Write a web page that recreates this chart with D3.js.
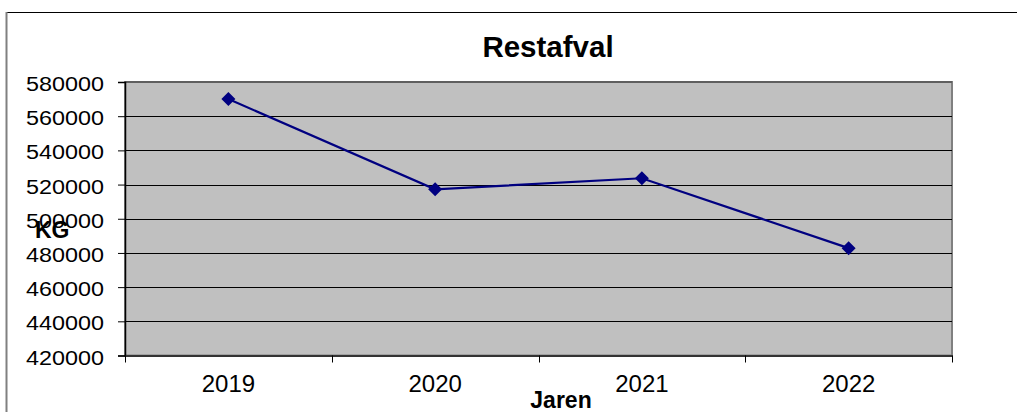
<!DOCTYPE html>
<html><head><meta charset="utf-8">
<script src="https://cdn.jsdelivr.net/npm/d3@7"></script>
<style>body{margin:0;background:#fff}svg{display:block}text{font-family:"Liberation Sans",Arial,sans-serif}</style>
</head><body>
<svg id="c" width="1017" height="412"></svg>
<script>
const categories = ["2019","2020","2021","2022"];
const values = [570000, 517200, 523700, 482800];
const yTicks = [420000,440000,460000,480000,500000,520000,540000,560000,580000];
const title = "Restafval";
const xTitle = "Jaren";
const yTitle = "KG";

const svg = d3.select("#c");
const m = {l:125, r:952, t:82, b:355.5};
const x = d3.scaleBand().domain(categories).range([m.l, m.r]);
const y = d3.scaleLinear().domain([420000,580000]).range([m.b, m.t]);

// outer frame
svg.append("line").attr("x1",6).attr("x2",1017).attr("y1",12.5).attr("y2",12.5).attr("stroke","#000").attr("stroke-width",1);
svg.append("line").attr("x1",6.5).attr("x2",6.5).attr("y1",12).attr("y2",412).attr("stroke","#808080").attr("stroke-width",2);

// plot area
svg.append("rect").attr("x",m.l).attr("y",m.t).attr("width",m.r-m.l).attr("height",m.b-m.t).attr("fill","#c0c0c0").attr("stroke","#808080").attr("stroke-width",2);

// gridlines
svg.append("g").selectAll("line").data(yTicks.slice(1,-1)).join("line")
  .attr("x1",m.l).attr("x2",m.r).attr("y1",d=>Math.round(y(d))+0.5).attr("y2",d=>Math.round(y(d))+0.5)
  .attr("stroke","#000").attr("stroke-width",1);
svg.append("line").attr("x1",m.l).attr("x2",m.r).attr("y1",m.t).attr("y2",m.t).attr("stroke","#555").attr("stroke-width",1.5);

// y axis
const ya = svg.append("g").attr("transform",`translate(${m.l},0)`)
  .call(d3.axisLeft(y).tickValues(yTicks).tickSize(7).tickPadding(21).tickFormat(d3.format("d")));
ya.select(".domain").attr("stroke","#000").attr("stroke-width",1.5);
ya.selectAll(".tick line").attr("stroke","#000");
ya.selectAll("text").attr("font-size",20.5).attr("fill","#000").attr("font-family","Liberation Sans, Arial, sans-serif")
  .attr("x",0).attr("dy","0.42em").attr("transform","translate(-21,0) scale(1.14,1)");

// x axis
const xa = svg.append("g").attr("transform",`translate(0,${m.b})`)
  .call(d3.axisBottom(x).tickSize(0).tickPadding(19.5));
xa.select(".domain").attr("stroke","#333").attr("stroke-width",2);
xa.selectAll("text").attr("font-size",24).attr("fill","#000").attr("font-family","Liberation Sans, Arial, sans-serif");
svg.append("g").selectAll("line").data(categories.concat(["_end"])).join("line")
  .attr("x1",(d,i)=> i<categories.length ? Math.round(x(d))+0.5 : m.r+0.5)
  .attr("x2",(d,i)=> i<categories.length ? Math.round(x(d))+0.5 : m.r+0.5)
  .attr("y1",m.b).attr("y2",m.b+7).attr("stroke","#000");

// line
const pts = categories.map((c,i)=>[x(c)+x.bandwidth()/2, y(values[i])]);
svg.append("path").attr("d",d3.line()(pts)).attr("fill","none").attr("stroke","#000080").attr("stroke-width",2.2);
svg.append("g").selectAll("path").data(pts).join("path")
  .attr("d","M0,-7L7,0L0,7L-7,0Z").attr("transform",d=>`translate(${d[0]},${d[1]})`).attr("fill","#000080");

// titles
svg.append("text").attr("x",548).attr("y",57).attr("text-anchor","middle").attr("font-size",29.5).attr("font-weight","bold").text(title);
svg.append("text").attr("x",561).attr("y",408).attr("text-anchor","middle").attr("font-size",23).attr("font-weight","bold").text(xTitle);
svg.append("text").attr("x",35).attr("y",238).attr("font-size",23).attr("font-weight","bold").text(yTitle);
</script>
</body></html>
